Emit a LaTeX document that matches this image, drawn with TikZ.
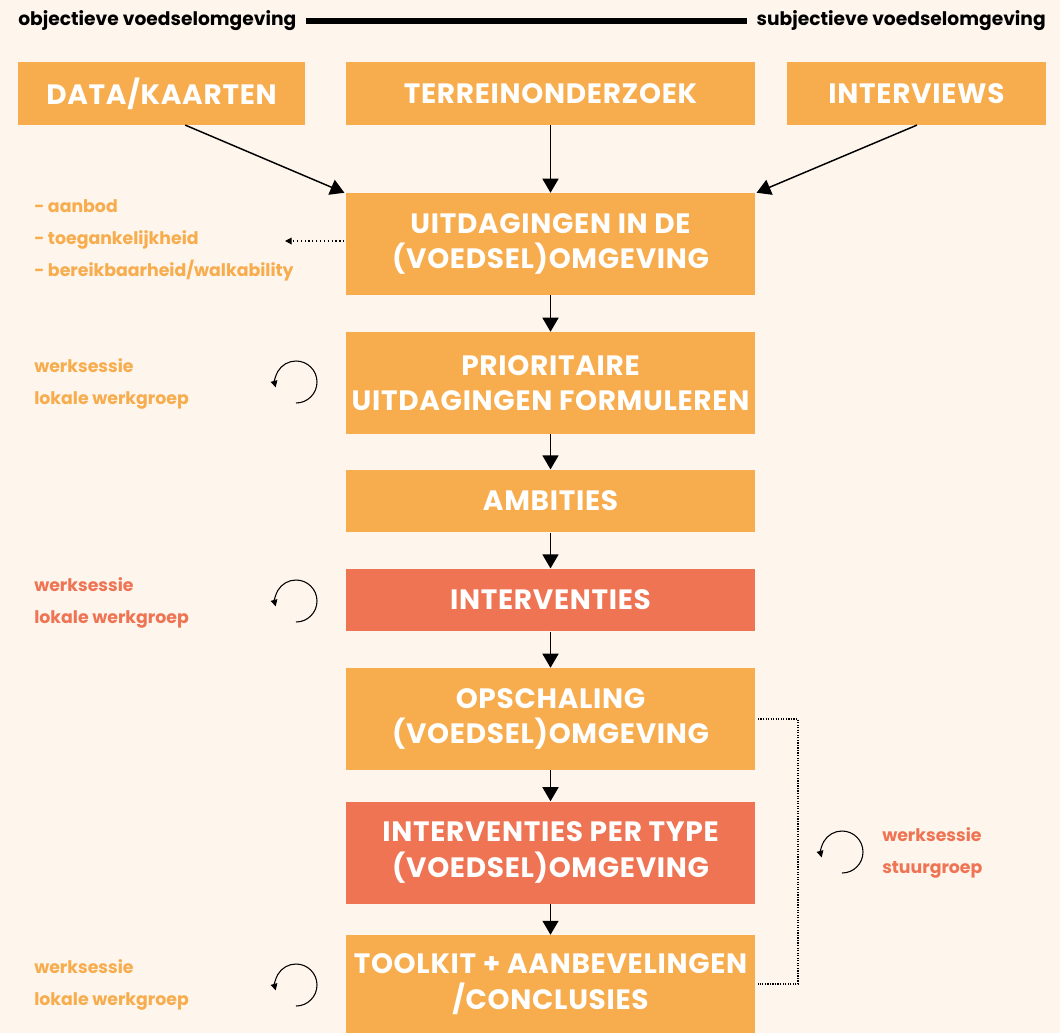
\documentclass[tikz,border=0pt]{standalone}
\usepackage{fontspec}
\setmainfont{Poppins}
\usetikzlibrary{arrows.meta}
\usetikzlibrary{positioning}
\definecolor{boxorange}{HTML}{F7AC4D}
\definecolor{boxred}{HTML}{EE7454}
\definecolor{paper}{HTML}{FEF5EC}

\begin{document}
\begin{tikzpicture}[x=0.75pt, y=-0.75pt, stepbox/.style={rectangle, fill=boxorange, text=white, font=\bfseries\fontsize{21}{26.5}\selectfont\addfontfeatures{LetterSpace=2.5}, align=center, minimum width=306.75pt, inner sep=0pt}, hot/.style={fill=boxred}, low/.style={minimum height=47pt}, high/.style={minimum height=76.5pt}, arrow/.style={line width=1.1pt, -{Triangle[length=10.5pt,width=12pt]}}, note/.style={anchor=west, font=\bfseries\fontsize{13}{24}\selectfont, align=left, inner sep=0pt}, loop/.style={line width=0.8pt, -{Triangle[length=5pt,width=5pt]}}, bracket/.style={densely dotted, line width=0.9pt}]
\fill [paper] (0,0) rectangle (1060,1033);
\useasboundingbox (0,0) rectangle (1060,1033);
% scale from objective to subjective
\node [anchor=west, inner sep=0pt, font=\bfseries\fontsize{14}{16}\selectfont] (objectief) at (18,21) {objectieve voedselomgeving};
\node [anchor=east, inner sep=0pt, font=\bfseries\fontsize{14}{16}\selectfont] (subjectief) at (1046,21) {subjectieve voedselomgeving};
\draw [line width=5pt] ([xshift=7pt]objectief.east) -- ([xshift=-7pt]subjectief.west);
% sources
\node [stepbox, low, minimum width=215.25pt] (data) at (161.5,93.5) {DATA/KAARTEN};
\node [stepbox, low] (terrein) at (550.5,93.5) {TERREINONDERZOEK};
\node [stepbox, low, minimum width=194.25pt] (interviews) at (916.5,93.5) {INTERVIEWS};
% main column
\node [stepbox, high] (uitdagingen) at (550.5,244) {UITDAGINGEN IN DE\\(VOEDSEL)OMGEVING};
\node [stepbox, high] (prioritair) at (550.5,383) {PRIORITAIRE\\UITDAGINGEN FORMULEREN};
\node [stepbox, low] (ambities) at (550.5,501) {AMBITIES};
\node [stepbox, hot, low] (interventies) at (550.5,600) {INTERVENTIES};
\node [stepbox, high] (opschaling) at (550.5,719) {OPSCHALING\\(VOEDSEL)OMGEVING};
\node [stepbox, hot, high] (pertype) at (550.5,852.5) {INTERVENTIES PER TYPE\\(VOEDSEL)OMGEVING};
\node [stepbox, minimum height=73.5pt] (toolkit) at (550.5,984) {TOOLKIT + AANBEVELINGEN\\/CONCLUSIES};
\draw [arrow] ([xshift=-90pt]data.south east) -- ([xshift=-1pt]uitdagingen.north west);
\draw [arrow] (terrein) -- (uitdagingen);
\draw [arrow] ([xshift=-97pt]interviews.south east) -- ([xshift=1pt]uitdagingen.north east);
\draw [arrow] (uitdagingen) -- (prioritair);
\draw [arrow] (prioritair) -- (ambities);
\draw [arrow] (ambities) -- (interventies);
\draw [arrow] (interventies) -- (opschaling);
\draw [arrow] (opschaling) -- (pertype);
\draw [arrow] (pertype) -- (toolkit);
% side notes
\node [note, text=boxorange] (aspecten) at (34,240) {- aanbod\\- toegankelijkheid\\- bereikbaarheid/walkability};
\coordinate (aspectpunt) at (285,241);
\draw [dotted, line width=0.9pt, -{Triangle[length=5pt,width=5pt]}] ([xshift=-1pt]uitdagingen.west |- aspectpunt) -- (aspectpunt);
\node [note, text=boxorange] (sessie1) at (34,384) {werksessie\\lokale werkgroep};
\node [note, text=boxred] (sessie2) at (34,603) {werksessie\\lokale werkgroep};
\node [note, text=boxorange] (sessie3) at (34,985) {werksessie\\lokale werkgroep};
\node [note, text=boxred] (sessie4) at (882,853) {werksessie\\stuurgroep};
\draw [loop] (296,403) arc [start angle=-90, end angle=195, radius=15.75pt];
\draw [loop] (296,622) arc [start angle=-90, end angle=195, radius=15.75pt];
\draw [loop] (296,1006) arc [start angle=-90, end angle=195, radius=15.75pt];
\draw [loop] (842,873) arc [start angle=-90, end angle=195, radius=15.75pt];
% bracket over the last steps
\draw [bracket] ([xshift=2pt]opschaling.east) -- ++(40,0) |- ([xshift=2pt]toolkit.east);
\end{tikzpicture}
\end{document}
